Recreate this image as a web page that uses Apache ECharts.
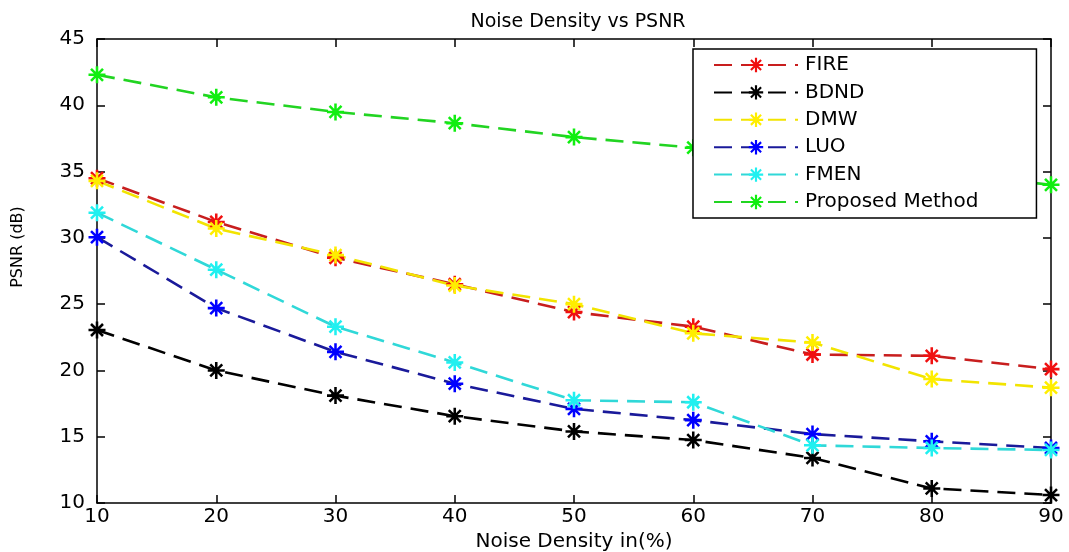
<!DOCTYPE html>
<html><head><meta charset="utf-8">
<script src="https://cdn.jsdelivr.net/npm/echarts@6/dist/echarts.min.js"></script>
<style>html,body{margin:0;padding:0;background:#fff}#c{width:1069px;height:552px}</style>
</head><body><div id="c"></div>
<script>
const noiseDensity = [10, 20, 30, 40, 50, 60, 70, 80, 90];
const FIRE = [34.5, 31.2, 28.5, 26.5, 24.4, 23.3, 21.2, 21.1, 20.1];
const BDND = [23.05, 20.0, 18.1, 16.55, 15.4, 14.75, 13.4, 11.1, 10.6];
const DMW = [34.3, 30.7, 28.7, 26.4, 25.0, 22.8, 22.1, 19.35, 18.7];
const LUO = [30.05, 24.7, 21.4, 19.0, 17.1, 16.25, 15.2, 14.65, 14.15];
const FMEN = [31.9, 27.6, 23.3, 20.6, 17.75, 17.6, 14.35, 14.15, 14.0];
const PROPOSED = [42.3, 40.6, 39.5, 38.65, 37.6, 36.8, 35.9, 35.0, 34.0];
const yTicks = [10, 15, 20, 25, 30, 35, 40, 45];

const seriesDefs = [
  {name: 'FIRE', data: FIRE, line: '#c81e1e', mark: '#f01010'},
  {name: 'BDND', data: BDND, line: '#000000', mark: '#000000'},
  {name: 'DMW', data: DMW, line: '#f2e400', mark: '#ffee00'},
  {name: 'LUO', data: LUO, line: '#1a1a9a', mark: '#0000ff'},
  {name: 'FMEN', data: FMEN, line: '#30d8d8', mark: '#20f0f0'},
  {name: 'Proposed Method', data: PROPOSED, line: '#22d422', mark: '#10ee10'}
];
const star = 'path://M0,8.5 L20,8.5 L20,11.5 L0,11.5 Z M8.5,0 L11.5,0 L11.5,20 L8.5,20 Z M1.9,4 L4,1.9 L18.1,16 L16,18.1 Z M16,1.9 L18.1,4 L4,18.1 L1.9,16 Z';
const font = 'DejaVu Sans';
const chart = echarts.init(document.getElementById('c'));
const axisCommon = {
  axisLine: {show: true, lineStyle: {color: '#000', width: 1.5}},
  axisTick: {show: true, inside: true, length: 8, lineStyle: {color: '#000', width: 1.5}},
  splitLine: {show: false}
};
chart.setOption({
  animation: false,
  backgroundColor: '#fff',
  title: {text: 'Noise Density vs PSNR', left: 573, top: 8, textAlign: 'center',
    textStyle: {fontFamily: font, fontSize: 19, fontWeight: 'normal', color: '#000'}},
  grid: {left: 97, top: 39, right: 18, bottom: 49, containLabel: false, outerBoundsMode: 'none'},
  legend: {
    orient: 'vertical', left: 693, top: 49,
    padding: [6, 58, 6, 20], itemGap: 7.4, itemWidth: 84, itemHeight: 18,
    backgroundColor: '#fff', borderColor: '#000', borderWidth: 1.5,
    textStyle: {fontFamily: font, fontSize: 20, color: '#000', padding: [0, 0, 0, 2]},
    data: seriesDefs.map(s => s.name)
  },
  graphic: [{
    type: 'text', x: 18, y: 247, rotation: Math.PI / 2,
    style: {text: 'PSNR (dB)', fontFamily: font, fontSize: 16, fill: '#000',
      textAlign: 'center', textVerticalAlign: 'middle'}
  }],
  xAxis: [
    Object.assign({type: 'value', min: 10, max: 90, interval: 10, position: 'bottom',
      name: 'Noise Density in(%)', nameLocation: 'middle', nameGap: 26,
      nameTextStyle: {fontFamily: font, fontSize: 20, color: '#000'},
      axisLabel: {fontFamily: font, fontSize: 20, color: '#000', margin: 4}}, axisCommon),
    Object.assign({type: 'value', min: 10, max: 90, interval: 10, position: 'top',
      axisLabel: {show: false}}, axisCommon)
  ],
  yAxis: [
    Object.assign({type: 'value', min: 10, max: 45, interval: 5, position: 'left',
      axisLabel: {fontFamily: font, fontSize: 20, color: '#000', margin: 12,
        formatter: v => yTicks.includes(v) ? String(v) : ''}}, axisCommon),
    Object.assign({type: 'value', min: 10, max: 45, interval: 5, position: 'right',
      axisLabel: {show: false}}, axisCommon)
  ],
  series: seriesDefs.map(s => ({
    name: s.name, type: 'line', xAxisIndex: 0, yAxisIndex: 0,
    data: noiseDensity.map((x, i) => [x, s.data[i]]),
    symbol: star, symbolSize: 17, showSymbol: true,
    lineStyle: {color: s.line, width: 2.6, type: [18, 9]},
    itemStyle: {color: s.mark, borderWidth: 0},
    emphasis: {disabled: true}
  }))
});
</script></body></html>
